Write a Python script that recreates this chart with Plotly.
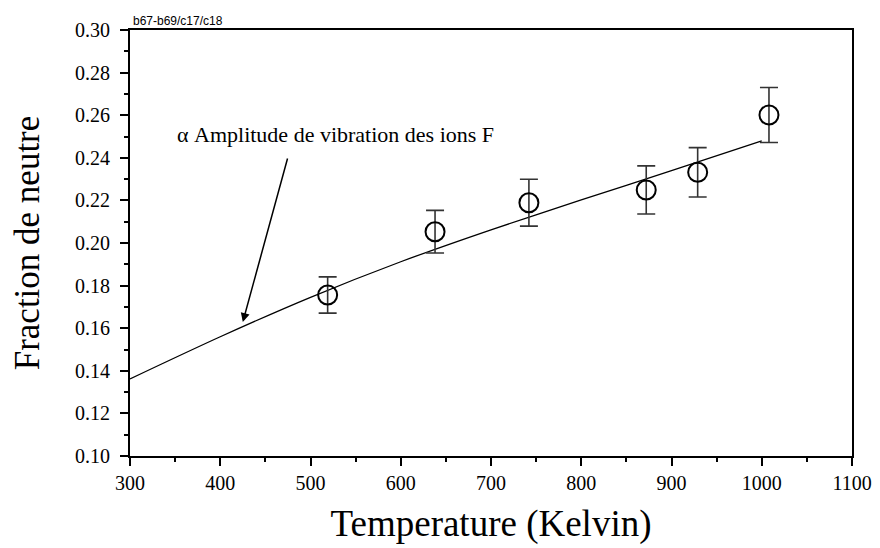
"""Fraction de neutre vs temperature."""

import plotly.graph_objects as go

# measured points (K, fraction, error)
temp = [519, 638, 742, 872, 929, 1008]
frac = [0.1756, 0.2053, 0.2189, 0.2249, 0.2332, 0.2601]
err = [0.0085, 0.0100, 0.0110, 0.0113, 0.0116, 0.0129]

# model curve
curve_t = [300, 400, 500, 600, 700, 800, 900, 1000]
curve_f = [0.1362, 0.1560, 0.1745, 0.1912, 0.2062, 0.2202, 0.2340, 0.2479]

x_ticks = [300, 400, 500, 600, 700, 800, 900, 1000, 1100]
y_ticks = [0.10, 0.12, 0.14, 0.16, 0.18, 0.20, 0.22, 0.24, 0.26, 0.28, 0.30]

serif = 'Liberation Serif, Times New Roman, serif'
tick_font = dict(family=serif, size=20, color='black')

fig = go.Figure()
fig.add_trace(go.Scatter(
  x=curve_t,
  y=curve_f,
  mode='lines',
  line=dict(color='black', width=1.3, shape='spline', smoothing=0.8),
  showlegend=False,
))
fig.add_trace(go.Scatter(
  x=temp,
  y=frac,
  mode='markers',
  marker=dict(symbol='circle-open', size=19, color='black', line=dict(width=2, color='black')),
  error_y=dict(type='data', array=err, visible=True, color='#333', thickness=1.6, width=9),
  showlegend=False,
))

fig.update_xaxes(
  range=[300, 1100],
  tickmode='array',
  tickvals=x_ticks,
  ticktext=[str(v) for v in x_ticks],
  tickfont=tick_font,
  showline=True, linecolor='black', linewidth=2, mirror=True,
  showgrid=False, zeroline=False,
  ticks='outside', tickcolor='black', tickwidth=2, ticklen=8,
  minor=dict(ticks='outside', ticklen=4, tickwidth=2, tickcolor='black', dtick=50, showgrid=False),
  title=dict(text='Temperature (Kelvin)', font=dict(family=serif, size=37, color='black'), standoff=17),
)
fig.update_yaxes(
  range=[0.10, 0.30],
  tickmode='array',
  tickvals=y_ticks,
  ticktext=['%.2f' % v for v in y_ticks],
  tickfont=tick_font,
  ticklabelstandoff=6,
  showline=True, linecolor='black', linewidth=2, mirror=True,
  showgrid=False, zeroline=False,
  ticks='outside', tickcolor='black', tickwidth=2, ticklen=8,
  minor=dict(ticks='outside', ticklen=4, tickwidth=2, tickcolor='black', dtick=0.01, showgrid=False),
  title=dict(text='Fraction de neutre', font=dict(family=serif, size=35, color='black'), standoff=26),
)

# annotation with arrow
fig.add_annotation(
  x=425, y=0.1629, ax=475, ay=0.2404,
  xref='x', yref='y', axref='x', ayref='y',
  showarrow=True, arrowhead=2, arrowsize=1.2, arrowwidth=1.5, arrowcolor='black',
  text='',
)
fig.add_annotation(
  x=0.062, y=0.754, xref='paper', yref='paper',
  text='α Amplitude de vibration des ions F',
  showarrow=False, xanchor='left', yanchor='middle',
  font=dict(family=serif, size=22, color='black'),
)
fig.add_annotation(
  x=0.002, y=1.0, xref='paper', yref='paper',
  text='b67-b69/c17/c18',
  showarrow=False, xanchor='left', yanchor='bottom',
  font=dict(family='Liberation Sans, Arial, sans-serif', size=12, color='black'),
)

# page body adds ~8px offset, so margins are shifted to compensate
fig.update_layout(
  template='plotly_white',
  font=dict(family=serif, size=20, color='black'),
  plot_bgcolor='white',
  paper_bgcolor='white',
  width=880,
  height=548,
  margin=dict(l=122, r=36, t=22, b=100, pad=0),
)

fig.write_html("out.html")
